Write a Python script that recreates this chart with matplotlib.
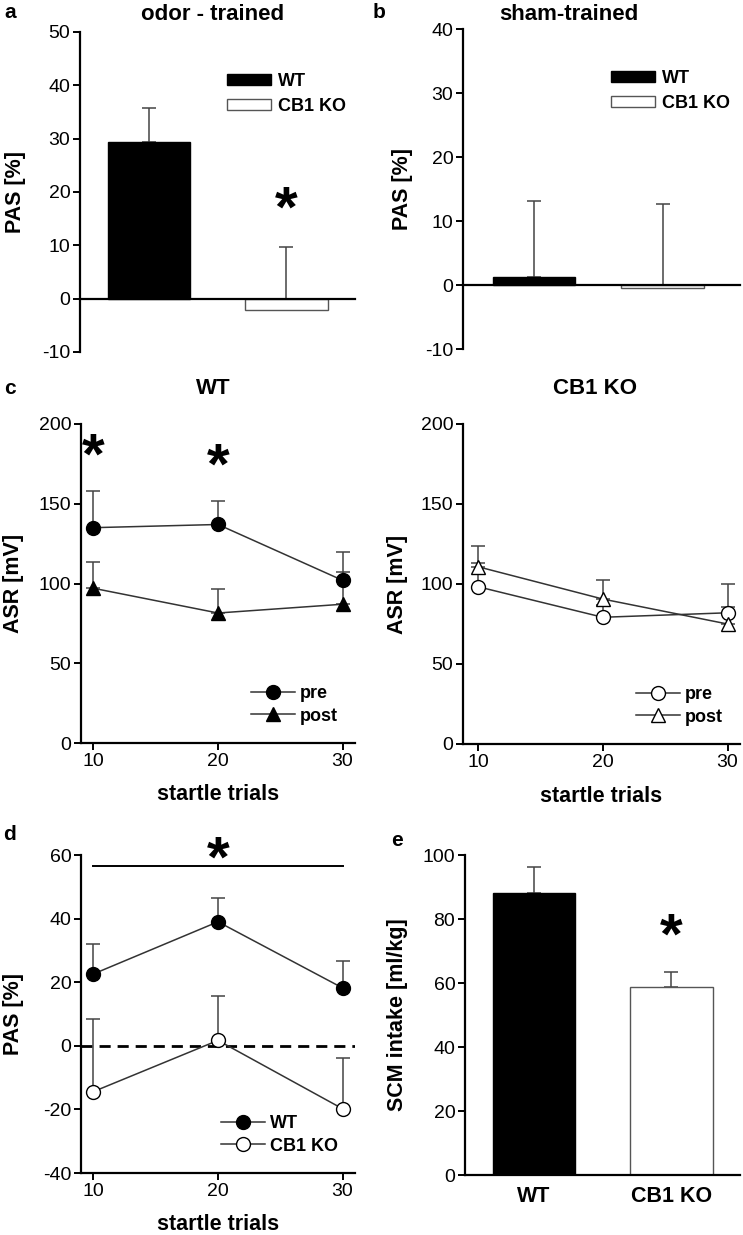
import matplotlib
matplotlib.use("Agg")
import matplotlib.pyplot as plt
import numpy as np

plt.rcParams['font.family'] = ['Liberation Sans', 'DejaVu Sans']
plt.rcParams['font.size'] = 14
plt.rcParams['axes.unicode_minus'] = False

# ---- data ----
groups = ["WT", "CB1 KO"]

# a: odor-trained PAS
odor_pas = [29.3, -2.2]
odor_err_top = [35.7, 9.6]

# b: sham-trained PAS
sham_pas = [1.2, -0.5]
sham_err_top = [13.2, 12.6]

# c: startle response over trials
trials = [10, 20, 30]
wt_pre = [135, 137, 102]
wt_pre_top = [158, 152, 120]
wt_post = [97, 81.5, 87]
wt_post_top = [113.5, 96.5, 107]
ko_pre = [98.3, 79.2, 82]
ko_pre_top = [113, 87, 100]
ko_post = [110.8, 90.6, 75]
ko_post_top = [124, 102.5, 85.6]

# d: PAS over trials
pas_wt = [22.6, 39, 18.2]
pas_wt_top = [32, 46.6, 26.7]
pas_ko = [-14.4, 1.7, -19.8]
pas_ko_top = [8.5, 15.7, -3.8]

# e: SCM intake
scm = [88, 58.7]
scm_err_top = [96.3, 63.5]

W, H = 743, 1235
fig = plt.figure(figsize=(W / 100, H / 100), dpi=100)

LBL = 15.5   # axis label size
TTL = 16     # title size
STAR = 42


def box(l, r, t, b):
    return [l / W, 1 - b / H, (r - l) / W, (b - t) / H]


ax_a = fig.add_axes(box(80, 355, 32, 352))
ax_b = fig.add_axes(box(463, 740, 29, 349))
ax_c1 = fig.add_axes(box(81, 355, 424, 743))
ax_c2 = fig.add_axes(box(463, 740, 424, 744))
ax_d = fig.add_axes(box(81, 355, 855, 1173))
ax_e = fig.add_axes(box(465, 740, 855, 1175))

ecol = "#444444"
lcol = "#333333"


def style(ax):
    for s in ["top", "right"]:
        ax.spines[s].set_visible(False)
    for s in ["left", "bottom"]:
        ax.spines[s].set_linewidth(1.6)
    ax.tick_params(direction="out", length=5, width=1.4, labelsize=14, pad=2)


def ylab(ax, text, x):
    ax.set_ylabel(text, fontsize=LBL, fontweight="bold", va="center")
    ax.yaxis.set_label_coords(x, 0.5)


def star(ax, x, y):
    # glyph sits high in its box, so nudge it down a little
    ax.annotate("*", (x, y), xytext=(0, -8), textcoords="offset points",
                ha="center", va="center", fontsize=STAR, fontweight="bold",
                annotation_clip=False)


def up_err(ax, x, y, top, **kw):
    y = np.array(y, dtype=float)
    top = np.array(top, dtype=float)
    ax.errorbar(x, y, yerr=[np.zeros_like(y), top - y], fmt="none",
                ecolor=ecol, elinewidth=1.1, capsize=5, capthick=1.1, **kw)


def bar_panel(ax, vals, tops, xlim, ylim, yticks, width):
    style(ax)
    x = np.arange(len(vals))
    up_err(ax, x, vals, tops, zorder=1)
    ax.bar(x, vals, width=width, color=["black", "white"],
           edgecolor=["black", "#555555"], linewidth=1.0, zorder=2)
    ax.set_xlim(*xlim)
    ax.set_ylim(*ylim)
    ax.set_yticks(yticks)
    return x


# ---- a ----
bar_panel(ax_a, odor_pas, odor_err_top, (-0.5, 1.5), (-10, 50), range(-10, 51, 10), 0.6)
ax_a.spines["bottom"].set_position(("data", 0))
ax_a.set_xticks([])
ylab(ax_a, "PAS [%]", -0.235)
star(ax_a, 1, 18.4)

# ---- b ----
bar_panel(ax_b, sham_pas, sham_err_top, (-0.55, 1.6), (-10, 40), range(-10, 41, 10), 0.64)
ax_b.spines["bottom"].set_position(("data", 0))
ax_b.set_xticks([])
ylab(ax_b, "PAS [%]", -0.22)

for ax in (ax_a, ax_b):
    h = [plt.Rectangle((0, 0), 1, 1, facecolor="black", edgecolor="black"),
         plt.Rectangle((0, 0), 1, 1, facecolor="white", edgecolor="#555555")]
    ax.legend(h, groups, loc="upper left", bbox_to_anchor=(0.51, 0.895), frameon=False,
              handlelength=2.4, handleheight=0.6, handletextpad=0.4, labelspacing=0.45,
              borderaxespad=0, prop={"weight": "bold", "size": 13})


# ---- c ----
def line_panel(ax, series, xlim, ylim, yticks, labels):
    style(ax)
    handles = []
    for y, top, mk, fc in series:
        up_err(ax, trials, y, top, zorder=1)
        h, = ax.plot(trials, y, color=lcol, lw=1.1, marker=mk, ms=10,
                     mfc=fc, mec="black", mew=1.0, zorder=3)
        handles.append(h)
    ax.set_xlim(*xlim)
    ax.set_ylim(*ylim)
    ax.set_xticks(trials)
    ax.set_yticks(yticks)
    ax.set_xlabel("startle trials", fontsize=LBL, fontweight="bold", va="center")
    ax.xaxis.set_label_coords(0.5, -0.163)
    ax.legend(handles, labels, loc="lower right", bbox_to_anchor=(0.965, 0.035),
              frameon=False, handlelength=2.4, handletextpad=0.3, labelspacing=0.3,
              borderaxespad=0, prop={"weight": "bold", "size": 13})


line_panel(ax_c1, [(wt_pre, wt_pre_top, "o", "black"), (wt_post, wt_post_top, "^", "black")],
           (9.0, 31.0), (0, 200), range(0, 201, 50), ["pre", "post"])
ylab(ax_c1, "ASR [mV]", -0.248)
star(ax_c1, 10, 185)
star(ax_c1, 20, 179)

line_panel(ax_c2, [(ko_pre, ko_pre_top, "o", "white"), (ko_post, ko_post_top, "^", "white")],
           (8.8, 31.0), (0, 200), range(0, 201, 50), ["pre", "post"])
ylab(ax_c2, "ASR [mV]", -0.238)

# ---- d ----
line_panel(ax_d, [(pas_wt, pas_wt_top, "o", "black"), (pas_ko, pas_ko_top, "o", "white")],
           (9.0, 31.0), (-40, 60), range(-40, 61, 20), groups)
ax_d.axhline(0, color="black", lw=2.0, ls=(0, (4, 2.5)), zorder=0)
ax_d.plot([10, 30], [56.4, 56.4], color="black", lw=1.4, clip_on=False)
star(ax_d, 20, 61.4)
ylab(ax_d, "PAS [%]", -0.248)

# ---- e ----
bar_panel(ax_e, scm, scm_err_top, (-0.5, 1.5), (0, 100), range(0, 101, 20), 0.6)
ax_e.set_xticks([0, 1])
ax_e.set_xticklabels(groups, fontsize=LBL, fontweight="bold")
ax_e.tick_params(axis="x", length=0, pad=8)
ylab(ax_e, "SCM intake [ml/kg]", -0.247)
star(ax_e, 1, 77.5)

# panel letters and titles
for lbl, x, y in [("a", 10, 12), ("b", 379, 12), ("c", 10, 388), ("d", 10, 835), ("e", 397, 840)]:
    fig.text(x / W, 1 - y / H, lbl, fontsize=15, fontweight="bold", ha="center", va="center")
for ttl, x, y in [("odor - trained", 213, 15), ("sham-trained", 569, 15),
                  ("WT", 213, 388), ("CB1 KO", 595, 388)]:
    fig.text(x / W, 1 - y / H, ttl, fontsize=TTL, fontweight="bold", ha="center", va="center")

fig.savefig("out.png", dpi=100)
